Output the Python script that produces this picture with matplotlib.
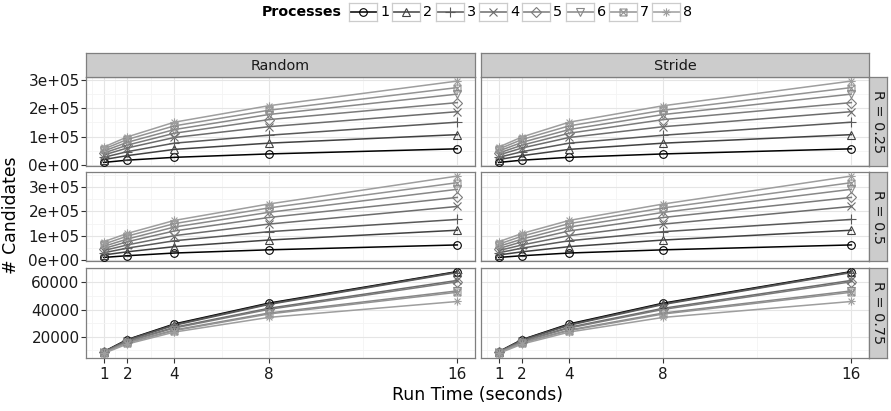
import numpy as np
import matplotlib
matplotlib.use("Agg")
from matplotlib import pyplot as plt
from matplotlib.path import Path

plt.rcParams['font.family'] = ['DejaVu Sans']

run_time = [1, 2, 4, 8, 16]
processes = [1, 2, 3, 4, 5, 6, 7, 8]
methods = ['Random', 'Stride']
ratios = ['R = 0.25', 'R = 0.5', 'R = 0.75']

# candidates found, one row per process count, columns follow run_time
cand_r025 = [
    [9000, 17000, 27000, 39000, 57000],
    [19000, 33000, 55000, 77000, 107000],
    [27000, 47000, 77000, 105000, 151000],
    [35000, 60000, 97000, 135000, 188000],
    [42000, 70000, 112000, 160000, 220000],
    [49000, 80000, 125000, 178000, 250000],
    [56000, 90000, 138000, 193000, 273000],
    [63000, 99000, 151000, 209000, 296000],
]
cand_r05 = [
    [12000, 19000, 30000, 43000, 63000],
    [22000, 35000, 56000, 83000, 123000],
    [31000, 50000, 80000, 117000, 167000],
    [40000, 63000, 101000, 148000, 220000],
    [48000, 76000, 120000, 175000, 257000],
    [57000, 87000, 136000, 196000, 290000],
    [66000, 99000, 150000, 214000, 317000],
    [76000, 110000, 163000, 230000, 344000],
]
cand_r075 = [
    [9000, 18000, 29500, 44800, 68000],
    [9000, 17800, 29000, 44300, 67700],
    [8900, 17500, 28500, 43800, 67300],
    [8700, 16800, 27000, 41000, 61500],
    [8600, 16500, 26500, 40200, 60500],
    [8300, 15800, 25000, 37500, 53800],
    [8200, 15500, 24600, 36800, 52800],
    [7800, 14700, 23500, 34300, 46000],
]
# Random and Stride came out almost the same
candidates = {
    'Random': [cand_r025, cand_r05, cand_r075],
    'Stride': [cand_r025, cand_r05, cand_r075],
}

yticks = [[0, 100000, 200000, 300000],
          [0, 100000, 200000, 300000],
          [20000, 40000, 60000]]
ytick_labels = [['0e+00', '1e+05', '2e+05', '3e+05'],
                ['0e+00', '1e+05', '2e+05', '3e+05'],
                ['20000', '40000', '60000']]

# grey palette, black to light grey (gamma 2.2 like R's grey.colors)
lev = np.linspace(0.0, 0.62 ** 2.2, len(processes)) ** (1 / 2.2)
colors = [(v, v, v) for v in lev]


def path_marker(segments, closed_square=False):
    verts, codes = [], []
    if closed_square:
        verts += [(-1, -1), (1, -1), (1, 1), (-1, 1), (-1, -1)]
        codes += [Path.MOVETO, Path.LINETO, Path.LINETO, Path.LINETO, Path.CLOSEPOLY]
    for a, b in segments:
        verts += [a, b]
        codes += [Path.MOVETO, Path.LINETO]
    return Path(verts, codes)


d = 0.7071
square_cross = path_marker([((-1, -1), (1, 1)), ((-1, 1), (1, -1))], closed_square=True)
asterisk = path_marker([((-1, 0), (1, 0)), ((0, -1), (0, 1)),
                        ((-d, -d), (d, d)), ((-d, d), (d, -d))])
markers = ['o', '^', '+', 'x', 'D', 'v', square_cross, asterisk]
msizes = [5.5, 5.5, 6.5, 5.5, 5.0, 5.5, 5.0, 6.0]

W, H = 891, 411
fig = plt.figure(figsize=(W / 100, H / 100), dpi=100)


def box(x0, y0, x1, y1):
    # pixel box (top-left origin) -> figure rect
    return [x0 / W, 1 - y1 / H, (x1 - x0) / W, (y1 - y0) / H]


col_x = [(86, 475), (481, 869)]
row_y = [(77, 166.5), (172, 261.5), (267.5, 357.5)]
border = '#7F7F7F'
txt = '#1a1a1a'

for r in range(3):
    allv = np.array(candidates['Random'][r] + candidates['Stride'][r])
    lo, hi = allv.min(), allv.max()
    pad = (hi - lo) * 0.05
    for c, m in enumerate(methods):
        ax = fig.add_axes(box(col_x[c][0], row_y[r][0], col_x[c][1], row_y[r][1]))
        vals = candidates[m][r]
        # lines first, then points on top
        for i in range(len(processes)):
            ax.plot(run_time, vals[i], color=colors[i], lw=1.1, zorder=2)
        for i in range(len(processes)):
            ax.plot(run_time, vals[i], ls='none', marker=markers[i], ms=msizes[i],
                    mfc='none', mec=colors[i], mew=0.8, zorder=3)
        ax.set_xlim(0.25, 16.75)
        ax.set_xticks(run_time)
        ax.set_xticks([0.5, 1.5, 3, 6, 12], minor=True)
        yt = yticks[r]
        step = yt[1] - yt[0]
        ax.set_yticks(yt)
        ax.set_yticks([yt[0] - step / 2] + [v + step / 2 for v in yt], minor=True)
        ax.set_ylim(lo - pad, hi + pad)
        ax.grid(which='major', color='#E5E5E5', lw=0.8, zorder=0)
        ax.grid(which='minor', color='#F4F4F4', lw=0.6, zorder=0)
        ax.set_axisbelow(True)
        for s in ax.spines.values():
            s.set_color(border)
            s.set_linewidth(0.9)
        ax.tick_params(which='minor', length=0)
        ax.tick_params(which='major', length=3.6, width=0.8, color='#333333',
                       labelsize=11, labelcolor=txt)
        ax.tick_params(axis='x', pad=3.2)
        ax.tick_params(axis='y', pad=1.0)
        if c == 0:
            ax.set_yticklabels(ytick_labels[r])
        else:
            ax.tick_params(axis='y', length=0, labelleft=False)
        if r == 2:
            ax.set_xticklabels([str(v) for v in run_time])
        else:
            ax.tick_params(axis='x', length=0, labelbottom=False)

    # right facet strip
    sax = fig.add_axes(box(869, row_y[r][0], 887, row_y[r][1]))
    sax.set_facecolor('#CCCCCC')
    sax.set_xticks([])
    sax.set_yticks([])
    for s in sax.spines.values():
        s.set_color(border)
        s.set_linewidth(0.9)
    sax.text(0.5, 0.5, ratios[r], rotation=-90, ha='center', va='center',
             fontsize=10.4, color=txt, transform=sax.transAxes)

# top facet strips
for c, m in enumerate(methods):
    sax = fig.add_axes(box(col_x[c][0], 53, col_x[c][1], 77))
    sax.set_facecolor('#CCCCCC')
    sax.set_xticks([])
    sax.set_yticks([])
    for s in sax.spines.values():
        s.set_color(border)
        s.set_linewidth(0.9)
    sax.text(0.5, 0.47, m, ha='center', va='center', fontsize=10.4,
             color=txt, transform=sax.transAxes)

fig.text(477 / W, 1 - 394.5 / H, 'Run Time (seconds)', ha='center', va='center', fontsize=12.4)
fig.text(11 / W, 1 - 215 / H, '# Candidates', ha='center', va='center',
         rotation=90, fontsize=12.4)

# legend along the top
ly = 12
fig.text(262 / W, 1 - ly / H, 'Processes', ha='left', va='center',
         fontsize=10.2, fontweight='bold')
for i, p in enumerate(processes):
    x0 = 349 + 43.3 * i
    kax = fig.add_axes(box(x0, ly - 9.3, x0 + 28, ly + 9.3))
    kax.plot([0, 1], [0.5, 0.5], color=colors[i], lw=1.1)
    kax.plot([0.5], [0.5], ls='none', marker=markers[i], ms=msizes[i],
             mfc='none', mec=colors[i], mew=0.8)
    kax.set_xlim(0, 1)
    kax.set_ylim(0, 1)
    kax.set_xticks([])
    kax.set_yticks([])
    for s in kax.spines.values():
        s.set_color('#CCCCCC')
        s.set_linewidth(0.9)
    fig.text((x0 + 31) / W, 1 - ly / H, str(p), ha='left', va='center', fontsize=10.4)

fig.savefig('out.png', dpi=100)
